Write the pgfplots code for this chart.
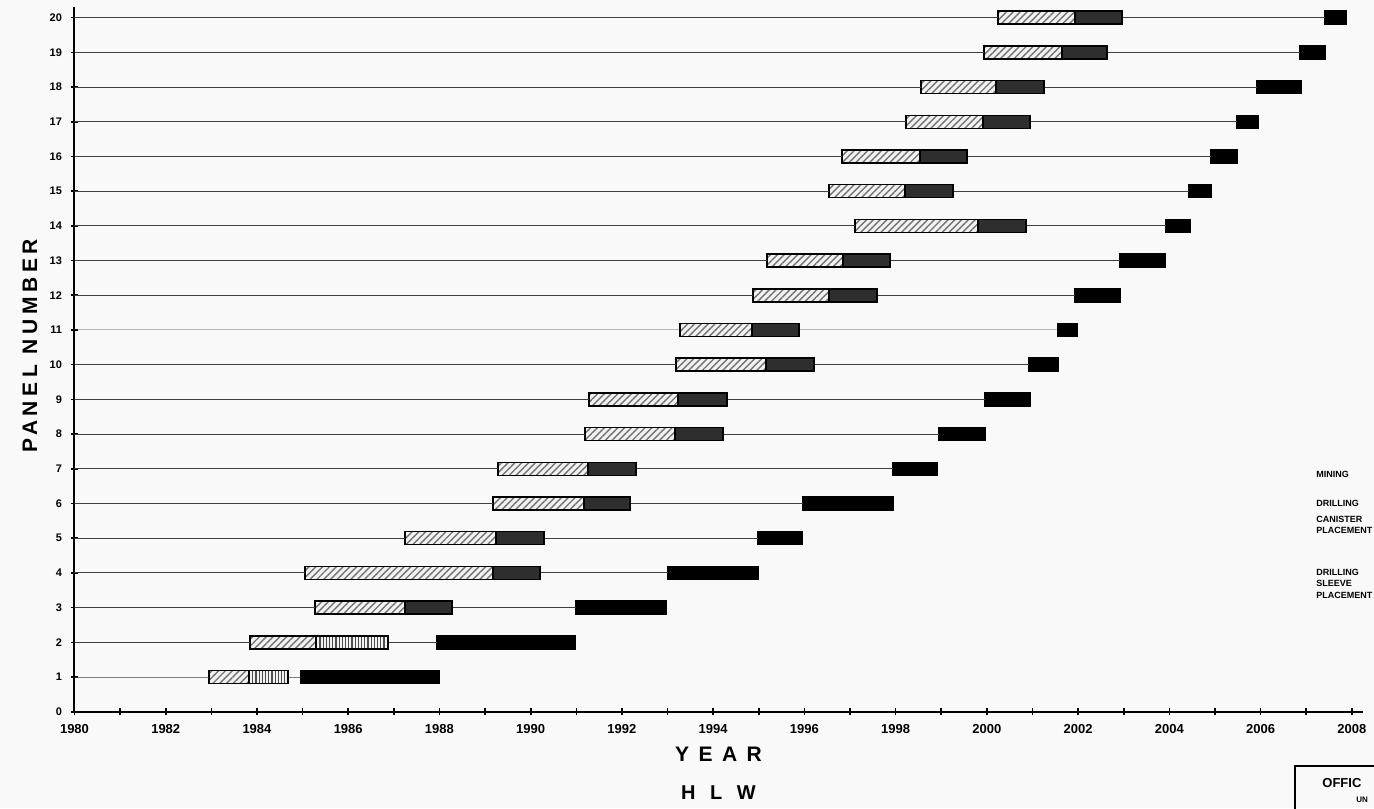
\documentclass[border=0pt]{standalone}
\usepackage{pgfplots}
\pgfplotsset{compat=1.18}
\usepackage{pgfplotstable}
\usetikzlibrary{patterns,patterns.meta}
\usepackage{fontspec}
\setmainfont{Liberation Sans}
\newfontfamily\spaced[LetterSpace=22]{Liberation Sans}
\newfontfamily\wide[LetterSpace=45]{Liberation Sans}
\begin{document}
\pgfplotstableread{
row start   mine drill sleeve gap  canister
1   1982.95 0.88 0.85  0      0.28 3.03
2   1983.85 1.44 1.58  0      1.08 3.02
3   1985.27 1.97 0     1.03   2.72 1.98
4   1985.05 4.12 0     1.03   2.81 1.97
5   1987.24 2.00 0     1.05   4.69 0.97
6   1989.17 2.00 0     1.01   3.79 1.97
7   1989.28 1.98 0     1.05   5.63 0.97
8   1991.19 1.97 0     1.06   4.73 1.01
9   1991.28 1.95 0     1.07   5.66 0.98
10  1993.18 1.98 0     1.05   4.71 0.64
11  1993.27 1.58 0     1.03   5.68 0.42
12  1994.87 1.67 0     1.05   4.34 0.99
13  1995.18 1.67 0     1.03   5.04 0.98
14  1997.11 2.70 0     1.05   3.07 0.52
15  1996.54 1.66 0     1.06   5.17 0.48
16  1996.82 1.71 0     1.03   5.35 0.57
17  1998.23 1.68 0     1.03   4.54 0.46
18  1998.56 1.64 0     1.05   4.67 0.96
19  1999.94 1.71 0     0.98   4.23 0.55
20  2000.24 1.69 0     1.03   4.45 0.46
}\gantt
\begin{tikzpicture}
\fill[gray!5, use as bounding box] (-37.25pt,-48.15pt) rectangle (649.75pt,355.85pt);
\clip (-37.25pt,-48.15pt) rectangle (649.75pt,355.85pt);
\begin{axis}[
  x=22.81pt, y=17.35pt,
  xmin=1980, xmax=2008.24, ymin=0, ymax=20.3,
  xbar stacked, bar width=6.5pt,
  axis x line=bottom, axis y line=left,
  axis line style={-, line width=1pt, black},
  xtick={1980,1982,...,2008},
  xticklabels={1980,1982,1984,1986,1988,1990,1992,1994,1996,1998,2000,2002,2004,2006,2008},
  minor xtick={1981,1983,...,2007},
  ytick={0,1,...,20},
  yticklabels={0,1,2,3,4,5,6,7,8,9,10,11,12,13,14,15,16,17,18,19,20},
  tick align=center, major tick length=3.5pt, minor tick length=3.5pt,
  tick style={line width=0.8pt, black},
  x tick label style={font=\bfseries\fontsize{6.5}{7}\selectfont, yshift=-1pt},
  y tick label style={font=\bfseries\fontsize{5.5}{6}\selectfont, xshift=-1pt},
  clip=true,
]
\addplot[draw=black!75, line width=0.5pt, bar width=0pt] table[x=start,y=row]{\gantt};
\addplot[fill=gray!10, draw=black, line width=0.75pt,
  postaction={pattern={Lines[angle=45,distance=2.4pt,line width=0.7pt]}, pattern color=black!55}]
  table[x=mine,y=row]{\gantt};
\addplot[fill=gray!10, draw=black, line width=0.75pt,
  postaction={pattern={Lines[angle=90,distance=1.6pt,line width=0.55pt]}, pattern color=black!70}]
  table[x=drill,y=row]{\gantt};
\addplot[fill=black!82, draw=black, line width=0.75pt] table[x=sleeve,y=row]{\gantt};
\addplot[draw=black!75, line width=0.5pt, bar width=0pt] table[x=gap,y=row]{\gantt};
\addplot[fill=black, draw=black, line width=0.75pt] table[x=canister,y=row]{\gantt};
\end{axis}
% axis titles
\node[rotate=90, font=\spaced\bfseries\fontsize{10.5}{11}\selectfont] at (-22.25pt,182.85pt) {PANEL NUMBER};
\node[font=\wide\bfseries\fontsize{10.5}{11}\selectfont] at (322pt,-21.15pt) {YEAR};
\node[font=\wide\bfseries\fontsize{10}{11}\selectfont] at (322pt,-40.65pt) {H L W};
% key (cut by the page edge in the reference)
\begin{scope}[every node/.style={anchor=west, inner sep=0pt, font=\bfseries\fontsize{4.5}{5}\selectfont}]
\node at (620.75pt,118.85pt) {MINING};
\node at (620.75pt,104.35pt) {DRILLING};
\node at (620.75pt,96.35pt) {CANISTER};
\node at (620.75pt,90.85pt) {PLACEMENT};
\node at (620.75pt,69.85pt) {DRILLING};
\node at (620.75pt,64.35pt) {SLEEVE};
\node at (620.75pt,58.35pt) {PLACEMENT};
\end{scope}
% office box
\draw[line width=0.8pt] (610.25pt,-27.15pt) rectangle (662.75pt,-59.15pt);
\node[anchor=west, inner sep=0pt, font=\bfseries\fontsize{6.5}{7}\selectfont] at (623.75pt,-35.65pt) {OFFIC};
\node[anchor=west, inner sep=0pt, font=\bfseries\fontsize{4}{5}\selectfont] at (640.75pt,-44.15pt) {UN};
\end{tikzpicture}
\end{document}
